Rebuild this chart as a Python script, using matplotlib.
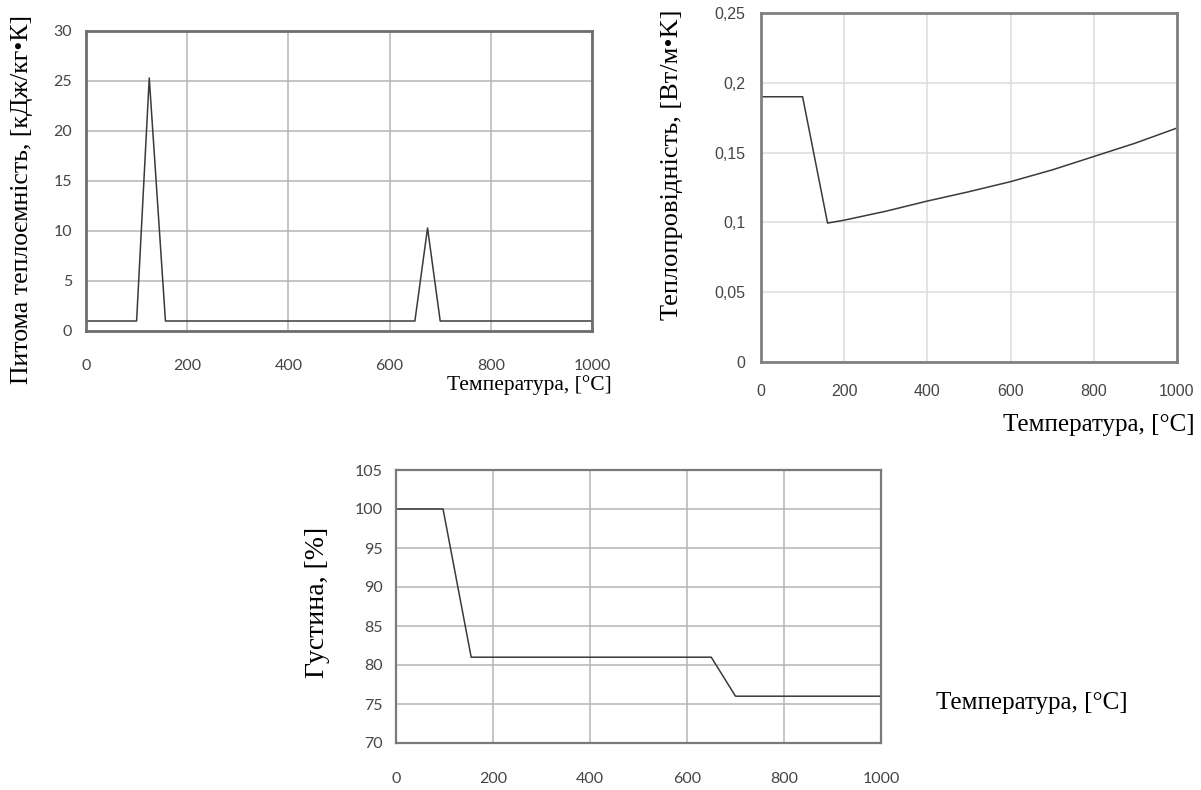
import matplotlib
matplotlib.use("Agg")
import matplotlib.pyplot as plt

# specific heat, kJ/(kg*K)
cp_temp = [0, 100, 125, 157, 650, 675, 700, 1000]
cp_vals = [1.0, 1.0, 25.3, 1.0, 1.0, 10.3, 1.0, 1.0]

# thermal conductivity, W/(m*K)
k_temp = [0, 100, 160, 200, 300, 400, 500, 600, 700, 800, 900, 1000]
k_vals = [0.19, 0.19, 0.0995, 0.1016, 0.108, 0.1153, 0.122, 0.1292, 0.1376, 0.1472, 0.1568, 0.1676]

# density, %
rho_temp = [0, 97, 155, 650, 700, 1000]
rho_vals = [100, 100, 81, 81, 76, 76]

x_ticks = [0, 200, 400, 600, 800, 1000]
cp_ticks = [0, 5, 10, 15, 20, 25, 30]
k_ticks = [0, 0.05, 0.1, 0.15, 0.2, 0.25]
k_labels = ["0", "0,05", "0,1", "0,15", "0,2", "0,25"]
rho_ticks = [70, 75, 80, 85, 90, 95, 100, 105]

SERIF = "Liberation Serif"
W, H = 1201, 790

fig = plt.figure(figsize=(W / 100, H / 100), dpi=100)


def box(x0, y0, x1, y1):
    return [x0 / W, 1 - y1 / H, (x1 - x0) / W, (y1 - y0) / H]


def style(ax, grid_col, spine_col, spine_w, font, size, xpad, ypad):
    ax.set_xlim(0, 1000)
    ax.set_xticks(x_ticks)
    ax.grid(True, color=grid_col, linewidth=1.1)
    ax.set_axisbelow(True)
    for s in ax.spines.values():
        s.set_color(spine_col)
        s.set_linewidth(spine_w)
    ax.tick_params(axis="x", length=0, pad=xpad, labelsize=size, labelcolor="#454545")
    ax.tick_params(axis="y", length=0, pad=ypad, labelsize=size, labelcolor="#454545")
    for lab in ax.get_xticklabels() + ax.get_yticklabels():
        lab.set_fontfamily(font)


# top left: specific heat
ax1 = fig.add_axes(box(86, 31, 592, 331))
ax1.plot(cp_temp, cp_vals, color="#3a3a3a", linewidth=1.1)
ax1.set_ylim(0, 30)
ax1.set_yticks(cp_ticks)
style(ax1, "#b5b5b5", "#6e6e6e", 2.0, "Lato", 11.5, 20, 10)
fig.text(22 / W, 1 - 200 / H, "Питома теплоємність, [кДж/кг•К]", rotation=90,
         ha="center", va="center", fontsize=18.5, family=SERIF)
fig.text(529 / W, 1 - 385 / H, "Температура, [°C]", ha="center", va="center",
         fontsize=15.5, family=SERIF)

# top right: thermal conductivity
ax2 = fig.add_axes(box(761, 13, 1177, 362))
ax2.plot(k_temp, k_vals, color="#3a3a3a", linewidth=1.1)
ax2.set_ylim(0, 0.25)
ax2.set_yticks(k_ticks)
ax2.set_yticklabels(k_labels)
style(ax2, "#dcdcdc", "#808080", 2.0, "Liberation Sans", 11.5, 16, 11)
fig.text(672 / W, 1 - 165 / H, "Теплопровідність, [Вт/м•K]", rotation=90,
         ha="center", va="center", fontsize=19, family=SERIF)
fig.text(1099 / W, 1 - 425 / H, "Температура, [°C]", ha="center", va="center",
         fontsize=18, family=SERIF)

# bottom: density
ax3 = fig.add_axes(box(396, 470, 881, 743))
ax3.plot(rho_temp, rho_vals, color="#3a3a3a", linewidth=1.1)
ax3.set_ylim(70, 105)
ax3.set_yticks(rho_ticks)
style(ax3, "#b5b5b5", "#7a7a7a", 1.6, "Lato", 11.5, 21, 9.5)
fig.text(318 / W, 1 - 602 / H, "Густина, [%]", rotation=90,
         ha="center", va="center", fontsize=20, family=SERIF)
fig.text(1032 / W, 1 - 703 / H, "Температура, [°C]", ha="center", va="center",
         fontsize=18, family=SERIF)

fig.savefig("out.png", dpi=100)
